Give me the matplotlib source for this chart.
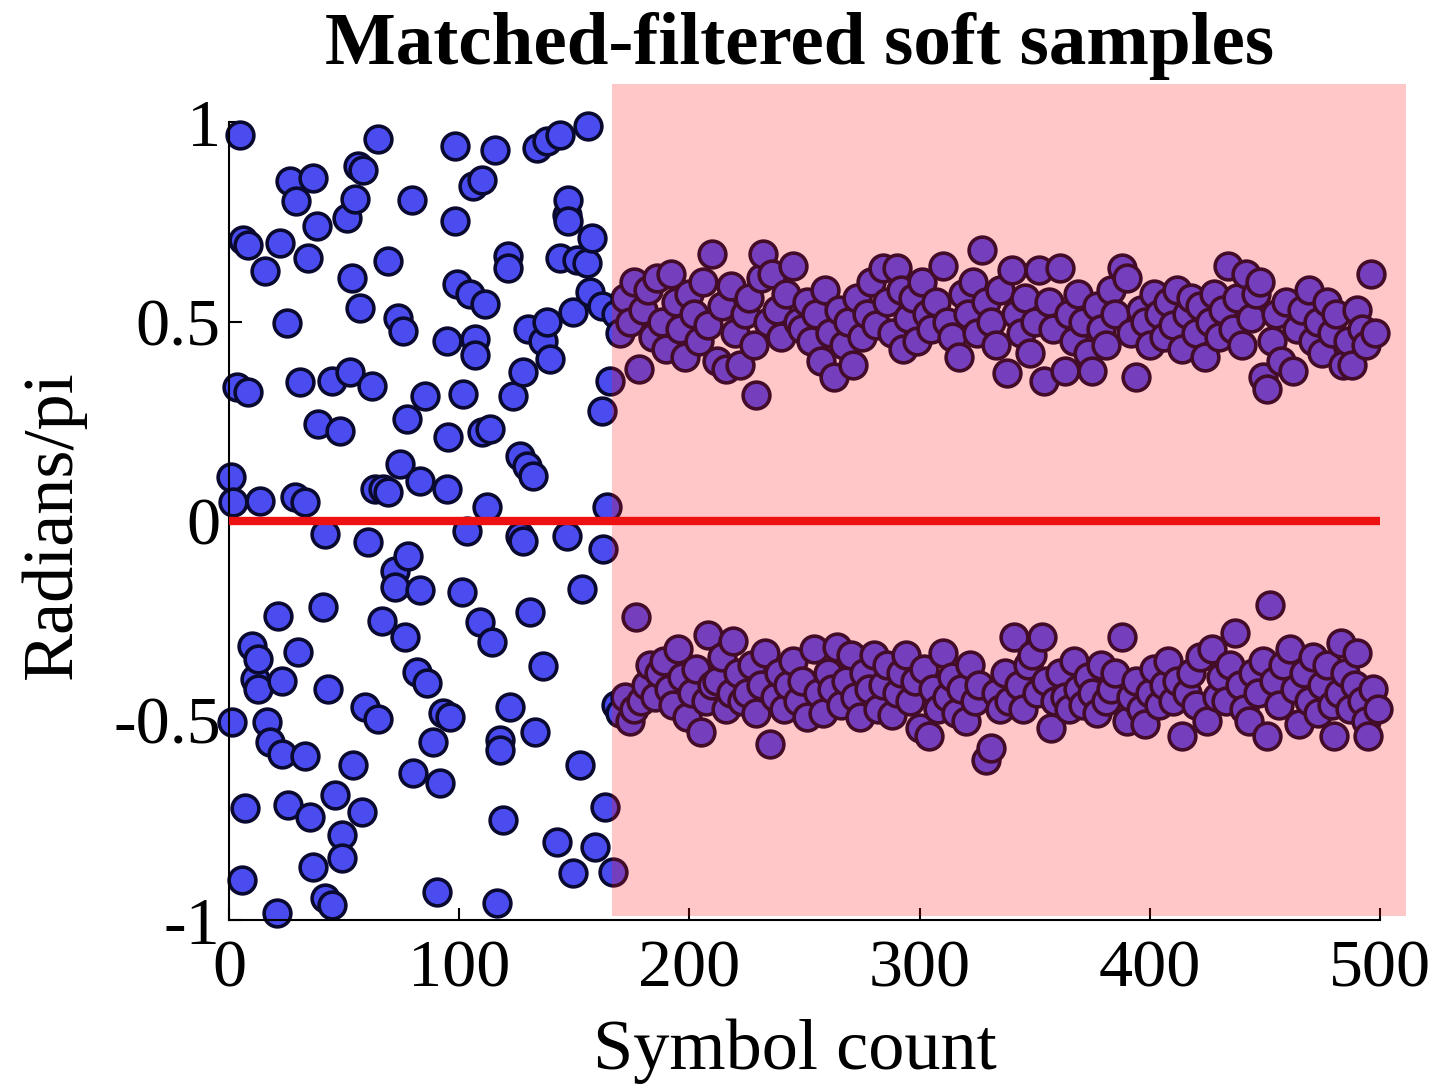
import matplotlib
matplotlib.use("Agg")
import matplotlib.pyplot as plt
from matplotlib.patches import Rectangle

# ---------------- data ----------------
# acquisition phase (before lock): symbol index, phase (radians/pi)
acq_x = [4.8, 64.7, 56.0, 58.2, 98.2, 115.6, 133.8, 138.1, 143.8, 156.0,
         26.5, 36.5, 29.1, 54.7, 51.3, 79.5, 106.0, 109.9, 38.2, 98.2,
         147.3, 146.8, 147.3, 157.7, 6.1, 8.3, 22.2, 15.6, 34.3, 69.1,
         121.2, 121.2, 143.8, 151.2, 155.5, 53.4, 99.0, 104.7, 111.2, 156.8,
         162.0, 56.9, 73.4, 75.6, 25.2, 129.9, 138.1, 149.4, 94.7, 106.9,
         106.9, 136.4, 139.4, 127.7, 165.5, 3.5, 8.3, 30.8, 44.7, 52.6,
         62.1, 85.1, 101.7, 123.4, 162.0, 38.7, 48.2, 77.3, 95.1, 109.9,
         113.4, 126.4, 129.5, 132.1, 1.0, 1.7, 13.5, 28.7, 33.0, 74.3,
         63.4, 66.9, 69.1, 83.0, 94.7, 112.1, 164.2,
         41.7, 60.4, 103.4, 126.4, 127.7, 146.8, 162.5, 77.8, 72.1, 72.1,
         83.0, 101.2, 153.3, 21.3, 40.8, 66.5, 76.5, 130.8, 109.0, 114.2,
         10.0, 12.6, 11.3, 12.6, 23.0, 30.0, 43.0, 136.4, 81.7, 86.0,
         93.0, 96.0, 59.1, 64.7, 1.3, 16.5, 17.8, 23.0, 33.0, 53.9,
         79.9, 88.6, 91.7, 122.1, 117.7, 117.7, 132.9, 152.5, 7.0, 25.6,
         35.2, 46.0, 57.8, 119.0, 163.3, 49.1, 49.1, 36.5, 142.5, 159.0,
         149.4, 166.8, 5.6, 41.7, 44.7, 20.9, 90.4, 116.4]
acq_y = [0.967, 0.957, 0.889, 0.879, 0.940, 0.930, 0.935, 0.952, 0.967, 0.990,
         0.852, 0.859, 0.802, 0.807, 0.759, 0.804, 0.839, 0.854, 0.739, 0.751,
         0.804, 0.766, 0.751, 0.709, 0.704, 0.691, 0.696, 0.626, 0.658, 0.651,
         0.663, 0.633, 0.658, 0.653, 0.646, 0.608, 0.595, 0.570, 0.545, 0.575,
         0.540, 0.533, 0.508, 0.477, 0.495, 0.482, 0.500, 0.525, 0.450, 0.457,
         0.415, 0.450, 0.407, 0.374, 0.352, 0.337, 0.324, 0.349, 0.352, 0.374,
         0.339, 0.314, 0.319, 0.314, 0.276, 0.244, 0.226, 0.256, 0.211, 0.224,
         0.231, 0.163, 0.138, 0.113, 0.111, 0.048, 0.050, 0.060, 0.048, 0.143,
         0.080, 0.080, 0.073, 0.101, 0.080, 0.035, 0.035,
         -0.033, -0.053, -0.025, -0.038, -0.050, -0.038, -0.070, -0.088, -0.126, -0.166,
         -0.173, -0.178, -0.171, -0.239, -0.216, -0.251, -0.291, -0.229, -0.254, -0.304,
         -0.314, -0.347, -0.397, -0.422, -0.402, -0.329, -0.422, -0.364, -0.379, -0.405,
         -0.480, -0.492, -0.465, -0.497, -0.505, -0.505, -0.555, -0.585, -0.590, -0.611,
         -0.631, -0.555, -0.656, -0.465, -0.548, -0.573, -0.530, -0.611, -0.719, -0.711,
         -0.741, -0.686, -0.729, -0.749, -0.716, -0.786, -0.844, -0.867, -0.804, -0.817,
         -0.882, -0.879, -0.899, -0.945, -0.962, -0.982, -0.930, -0.957]

# locked phase, upper cluster
upper_x = [168, 170, 172, 174, 176, 178, 180, 182, 184, 186, 188, 190, 192, 194, 196,
           198, 200, 202, 204, 206, 208, 210, 212, 214, 216, 218, 220, 222, 224, 226,
           228, 229, 231, 232, 234, 236, 238, 240, 242, 245, 247, 249, 251, 253, 255,
           257, 259, 261, 263, 265, 267, 269, 271, 273, 275, 277, 279, 281, 284, 286,
           288, 290, 292, 293, 295, 297, 299, 301, 303, 305, 307, 310, 312, 314, 317,
           319, 321, 323, 325, 327, 329, 331, 333, 335, 338, 340, 342, 344, 346, 348,
           350, 352, 354, 356, 358, 361, 363, 365, 367, 369, 371, 373, 375, 377, 379,
           381, 383, 385, 388, 390, 392, 394, 396, 398, 400, 402, 404, 406, 408, 410,
           412, 414, 416, 418, 420, 422, 424, 426, 428, 430, 432, 434, 436, 438, 440,
           442, 444, 446, 448, 449, 451, 453, 455, 457, 459, 462, 464, 466, 469, 471,
           473, 475, 477, 479, 481, 484, 486, 488, 490, 492, 494, 496, 498]
upper_y = [0.52, 0.47, 0.56, 0.50, 0.60, 0.38, 0.53, 0.58, 0.46, 0.61, 0.50, 0.43, 0.62, 0.55, 0.48,
           0.41, 0.57, 0.52, 0.45, 0.60, 0.49, 0.67, 0.40, 0.54, 0.38, 0.59, 0.47, 0.39, 0.52, 0.56,
           0.44, 0.315, 0.61, 0.67, 0.50, 0.62, 0.53, 0.46, 0.57, 0.64, 0.50, 0.48, 0.55, 0.45, 0.52,
           0.40, 0.58, 0.47, 0.36, 0.53, 0.44, 0.50, 0.39, 0.56, 0.46, 0.52, 0.60, 0.49, 0.635, 0.55,
           0.47, 0.635, 0.58, 0.43, 0.51, 0.56, 0.45, 0.60, 0.52, 0.48, 0.55, 0.64, 0.50, 0.46, 0.41,
           0.57, 0.52, 0.60, 0.47, 0.68, 0.55, 0.50, 0.44, 0.58, 0.37, 0.63, 0.52, 0.47, 0.56, 0.42,
           0.50, 0.63, 0.35, 0.55, 0.48, 0.635, 0.375, 0.52, 0.45, 0.57, 0.50, 0.42, 0.375, 0.54, 0.48,
           0.44, 0.58, 0.52, 0.635, 0.61, 0.47, 0.36, 0.53, 0.50, 0.44, 0.57, 0.52, 0.46, 0.55, 0.49,
           0.58, 0.43, 0.52, 0.56, 0.47, 0.54, 0.41, 0.50, 0.57, 0.46, 0.53, 0.64, 0.48, 0.56, 0.44,
           0.62, 0.51, 0.57, 0.60, 0.36, 0.33, 0.45, 0.52, 0.40, 0.55, 0.375, 0.48, 0.53, 0.58, 0.45,
           0.50, 0.42, 0.55, 0.47, 0.52, 0.39, 0.45, 0.39, 0.53, 0.48, 0.44, 0.62, 0.47]

# locked phase, lower cluster
lower_x = [168, 170, 172, 174, 176, 177, 179, 181, 183, 185, 187, 189, 191, 193, 195,
           197, 199, 201, 203, 205, 207, 208, 210, 212, 214, 216, 218, 219, 221, 223,
           225, 227, 229, 231, 233, 235, 237, 239, 241, 243, 245, 247, 249, 251, 254,
           256, 258, 260, 262, 264, 266, 268, 270, 272, 274, 276, 278, 280, 282, 284,
           286, 288, 290, 292, 294, 296, 298, 300, 302, 304, 306, 308, 310, 312, 314,
           316, 318, 320, 322, 324, 326, 329, 331, 333, 335, 337, 339, 341, 343, 345,
           347, 349, 351, 353, 355, 357, 359, 361, 363, 365, 367, 369, 371, 373, 375,
           377, 379, 381, 383, 385, 388, 390, 392, 394, 396, 398, 400, 402, 404, 406,
           408, 410, 412, 414, 416, 418, 420, 422, 425, 427, 429, 431, 433, 435, 437,
           439, 441, 443, 445, 447, 449, 451, 452, 454, 456, 458, 461, 463, 465, 467,
           469, 471, 473, 475, 477, 479, 480, 482, 483, 485, 487, 489, 490, 492, 494,
           495, 497, 499]
lower_y = [-0.46, -0.48, -0.44, -0.50, -0.47, -0.24, -0.45, -0.41, -0.36, -0.44, -0.38, -0.35, -0.42, -0.46, -0.32,
           -0.39, -0.49, -0.43, -0.37, -0.53, -0.45, -0.285, -0.41, -0.40, -0.34, -0.47, -0.43, -0.30, -0.38, -0.45,
           -0.43, -0.36, -0.48, -0.41, -0.33, -0.56, -0.44, -0.38, -0.47, -0.41, -0.35, -0.45, -0.40, -0.49, -0.32,
           -0.43, -0.48, -0.38, -0.42, -0.315, -0.46, -0.40, -0.335, -0.44, -0.49, -0.38, -0.42, -0.335, -0.47, -0.41,
           -0.36, -0.485, -0.43, -0.38, -0.335, -0.45, -0.40, -0.52, -0.37, -0.54, -0.42, -0.47, -0.33, -0.44, -0.39,
           -0.48, -0.42, -0.50, -0.36, -0.45, -0.41, -0.60, -0.57, -0.43, -0.47, -0.38, -0.45, -0.29, -0.41, -0.47,
           -0.36, -0.335, -0.43, -0.29, -0.40, -0.52, -0.45, -0.38, -0.44, -0.47, -0.35, -0.42, -0.46, -0.39, -0.43,
           -0.48, -0.36, -0.45, -0.42, -0.38, -0.29, -0.50, -0.44, -0.40, -0.47, -0.51, -0.43, -0.37, -0.46, -0.41,
           -0.35, -0.45, -0.40, -0.54, -0.43, -0.38, -0.46, -0.34, -0.50, -0.32, -0.44, -0.39, -0.45, -0.36, -0.28,
           -0.41, -0.47, -0.50, -0.38, -0.43, -0.35, -0.54, -0.21, -0.40, -0.46, -0.36, -0.32, -0.42, -0.51, -0.38,
           -0.45, -0.34, -0.48, -0.41, -0.36, -0.46, -0.54, -0.43, -0.305, -0.38, -0.47, -0.41, -0.33, -0.45, -0.50,
           -0.54, -0.42, -0.47]

# zero reference line and lock region
ref_x = [0, 500]
ref_y = [0, 0]
lock_x0, lock_x1 = 166.5, 511.5
lock_y0, lock_y1 = -0.99, 1.095

x_ticks = [0, 100, 200, 300, 400, 500]
x_tick_labels = ["0", "100", "200", "300", "400", "500"]
y_ticks = [-1, -0.5, 0, 0.5, 1]
y_tick_labels = ["-1", "-0.5", "0", "0.5", "1"]

title = "Matched-filtered soft samples"
xlabel = "Symbol count"
ylabel = "Radians/pi"

# ---------------- drawing ----------------
plt.rcParams["font.family"] = ["Liberation Serif", "DejaVu Serif"]

fig = plt.figure(figsize=(14.37, 10.89), dpi=100)
ax = fig.add_axes([229 / 1437, 1 - 920 / 1089, (1380 - 229) / 1437, (920 - 122) / 1089])

pts = sorted(list(zip(acq_x, acq_y)) + list(zip(upper_x, upper_y)) + list(zip(lower_x, lower_y)),
             key=lambda p: p[0])
ax.scatter([p[0] for p in pts], [p[1] for p in pts], s=370, c="#4a4cf0",
           edgecolors="#0a0a30", linewidths=2.6, zorder=2, clip_on=False)

ax.add_patch(Rectangle((lock_x0, lock_y0), lock_x1 - lock_x0, lock_y1 - lock_y0,
                       facecolor=(1.0, 0.08, 0.08), alpha=0.235, edgecolor="none",
                       zorder=3, clip_on=False))

ax.plot(ref_x, ref_y, color="#ee1111", lw=6.0, solid_capstyle="butt", zorder=4)

ax.set_xlim(0, 500)
ax.set_ylim(-1, 1)
for side in ("top", "right"):
    ax.spines[side].set_visible(False)
for side in ("left", "bottom"):
    ax.spines[side].set_linewidth(1.5)
    ax.spines[side].set_zorder(2.5)

ax.set_xticks(x_ticks)
ax.set_xticklabels(x_tick_labels)
ax.set_yticks(y_ticks)
ax.set_yticklabels(y_tick_labels)
ax.tick_params(direction="in", length=9, width=1.5, labelsize=49)
ax.tick_params(axis="x", pad=14)
ax.tick_params(axis="y", pad=6)

ax.set_xlabel(xlabel, fontsize=52)
ax.xaxis.set_label_coords(0.492, -0.165)
ax.xaxis.label.set_va("center")
ax.set_ylabel(ylabel, fontsize=52)
ax.yaxis.set_label_coords(-0.153, 0.495)
ax.yaxis.label.set_va("center")

ax.set_title(title, fontsize=54, fontweight="bold", x=0.496, y=1.062, va="baseline")

fig.savefig("out.png", dpi=100, facecolor="white")
